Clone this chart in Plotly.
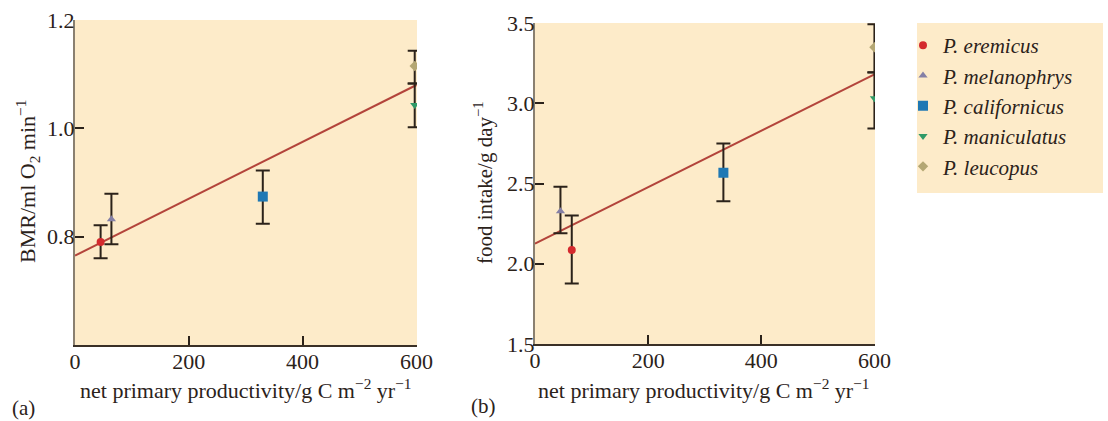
import plotly.graph_objects as go

W, H = 1108, 421

BEIGE = "#fdebc9"
INK = "#2b221a"
FONT = "Liberation Serif"

species = ["P. eremicus", "P. melanophrys", "P. californicus", "P. maniculatus", "P. leucopus"]
colors = ["#d42a2e", "#8580a6", "#1f78b4", "#2f9a68", "#b4a774"]
symbols = ["circle", "triangle-up", "square", "triangle-down", "diamond"]
sizes = [8, 8, 10, 8, 8]

# panel (a): basal metabolic rate
npp_a = [45, 64, 330, 597, 597]
bmr = [0.790, 0.832, 0.874, 1.043, 1.115]
bmr_hi = [0.031, 0.047, 0.048, 0.040, 0.028]
bmr_lo = [0.030, 0.046, 0.050, 0.041, 0.032]

# panel (b): food intake
npp_b = [65, 45, 333, 600, 600]
food = [2.086, 2.327, 2.567, 3.031, 3.349]
food_hi = [0.214, 0.153, 0.183, 0.162, 0.143]
food_lo = [0.209, 0.137, 0.177, 0.188, 0.157]

# regression lines
fit_x = [0, 600]
fit_bmr = [0.765, 1.080]
fit_food = [2.125, 3.180]

x_ticks = [0, 200, 400, 600]
bmr_ticks = [0.8, 1.0, 1.2]
food_ticks = [1.5, 2.0, 2.5, 3.0, 3.5]


def px(x):
    return x / W


def py(y):
    return 1 - y / H


fig = go.Figure()

for xa, ya, xs, ys, hi, lo, fy, leg in [
    ("x", "y", npp_a, bmr, bmr_hi, bmr_lo, fit_bmr, True),
    ("x2", "y2", npp_b, food, food_hi, food_lo, fit_food, False),
]:
    fig.add_trace(go.Scatter(
        x=fit_x, y=fy, mode="lines", xaxis=xa, yaxis=ya,
        line=dict(color="#b3443b", width=2), showlegend=False, hoverinfo="skip",
    ))
    for i, name in enumerate(species):
        fig.add_trace(go.Scatter(
            x=[xs[i]], y=[ys[i]], mode="markers", name=name, xaxis=xa, yaxis=ya,
            legendgroup=name, showlegend=leg,
            marker=dict(color=colors[i], symbol=symbols[i], size=sizes[i]),
            error_y=dict(type="data", symmetric=False, array=[hi[i]], arrayminus=[lo[i]],
                         color=INK, thickness=2, width=7),
        ))

axis_common = dict(
    showline=True, linewidth=2, ticks="inside", ticklen=9, tickwidth=2,
    tickcolor=INK, showgrid=False, zeroline=False, automargin=False,
    tickfont=dict(family=FONT, size=22, color=INK),
)

fig.update_layout(
    width=W, height=H,
    margin=dict(l=0, r=0, t=0, b=0),
    paper_bgcolor="white",
    plot_bgcolor=BEIGE,
    font=dict(family=FONT, size=22, color=INK),
    xaxis=dict(domain=[px(75), px(417)], range=[0, 601], anchor="y",
               tickvals=x_ticks, linecolor="#3a3026", ticklabelstandoff=-4, **axis_common),
    yaxis=dict(domain=[py(345), py(20)], range=[0.6, 1.2], anchor="x",
               tickvals=bmr_ticks, ticktext=["0.8", "1.0", "1.2"],
               linecolor="#8a8070", ticklabelstandoff=-6, **axis_common),
    xaxis2=dict(domain=[px(535), px(875)], range=[0, 601], anchor="y2",
                tickvals=x_ticks, linecolor="#3a3026", ticklabelstandoff=-4, **axis_common),
    yaxis2=dict(domain=[py(344), py(23)], range=[1.5, 3.5], anchor="x2",
                tickvals=food_ticks, ticktext=["1.5", "2.0", "2.5", "3.0", "3.5"],
                linecolor="#8a8070", ticklabelstandoff=-6, **axis_common),
    legend=dict(
        x=px(903), y=py(25), xanchor="left", yanchor="top",
        bgcolor="rgba(0,0,0,0)", tracegroupgap=0,
        font=dict(family=FONT, size=21, style="italic", color=INK),
    ),
    shapes=[dict(type="rect", xref="paper", yref="paper",
                 x0=px(917), x1=px(1103), y0=py(193), y1=py(23),
                 fillcolor=BEIGE, line=dict(width=0), layer="below")],
)

x_title = "net primary productivity/g C m<sup>−2</sup> yr<sup>−1</sup>"
notes = [
    ("BMR/ml O<sub>2</sub> min<sup>−1</sup>", 27, 182, -90, 22),
    ("food intake/g day<sup>−1</sup>", 483, 183, -90, 21),
    (x_title, 246, 389, 0, 22),
    (x_title, 704, 389, 0, 22),
    ("(a)", 23, 408, 0, 21),
    ("(b)", 483, 406, 0, 21),
]
for text, x, y, ang, size in notes:
    fig.add_annotation(text=text, x=px(x), y=py(y), xref="paper", yref="paper",
                       showarrow=False, textangle=ang, xanchor="center", yanchor="middle",
                       font=dict(family=FONT, size=size, color=INK))

fig.write_html("out.html", config={"displayModeBar": False},
               post_script="document.body.style.margin = '0';")
